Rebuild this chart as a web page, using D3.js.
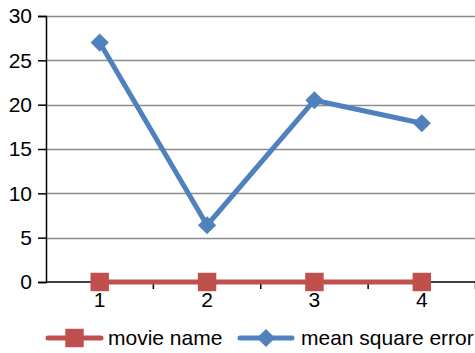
<!DOCTYPE html>
<html>
<head>
<meta charset="utf-8">
<script src="https://cdn.jsdelivr.net/npm/d3@7"></script>
<style>
  html, body { margin: 0; padding: 0; background: #fff; overflow: hidden; }
  svg { display: block; font-family: "Liberation Sans", Arial, Helvetica, sans-serif; }
</style>
</head>
<body>
<script>
const categories = ["1", "2", "3", "4"];
const movieName = [0, 0, 0, 0];
const meanSquareError = [27, 6.4, 20.5, 17.9];
const yTicks = [0, 5, 10, 15, 20, 25, 30];

(function () {
  const W = 475, H = 353;
  const FONT = 21;
  const svg = d3.select("body").append("svg").attr("width", W).attr("height", H);

  const plotLeft = 46, plotRight = 475.5, plotTop = 16, plotBottom = 282;

  const x = d3.scaleBand().domain(categories).range([plotLeft, plotRight]).padding(0);
  const y = d3.scaleLinear().domain([0, 30]).range([plotBottom, plotTop]);

  // horizontal gridlines
  svg.append("g").selectAll("line").data(yTicks.filter(d => d > 0)).join("line")
    .attr("x1", plotLeft).attr("x2", W)
    .attr("y1", d => Math.round(y(d)) + 0.5).attr("y2", d => Math.round(y(d)) + 0.5)
    .attr("stroke", "#8c8c8c").attr("stroke-width", 1.3);

  // y axis
  const yAxis = svg.append("g").attr("transform", `translate(${plotLeft},0)`)
    .call(d3.axisLeft(y).tickValues(yTicks).tickSize(8).tickPadding(6));
  yAxis.select(".domain").attr("stroke", "#000").attr("stroke-width", 1.5);
  yAxis.selectAll(".tick line").attr("stroke", "#000").attr("stroke-width", 1.5);
  yAxis.selectAll("text").attr("font-size", FONT).attr("fill", "#000")
    .attr("font-family", "Liberation Sans, Arial, sans-serif");

  // x axis: ticks sit between the category bands
  const xAxisG = svg.append("g").attr("transform", `translate(0,${plotBottom})`);
  xAxisG.append("line").attr("x1", plotLeft).attr("x2", W).attr("y1", 0).attr("y2", 0)
    .attr("stroke", "#000").attr("stroke-width", 1.5);
  const boundaries = categories.map(c => x(c)).concat([x(categories[categories.length - 1]) + x.bandwidth()]);
  xAxisG.selectAll("line.tk").data(boundaries.slice(1)).join("line").attr("class", "tk")
    .attr("x1", d => d).attr("x2", d => d).attr("y1", 0).attr("y2", 7)
    .attr("stroke", "#000").attr("stroke-width", 1.5);
  xAxisG.selectAll("text").data(categories).join("text")
    .attr("x", d => x(d) + x.bandwidth() / 2).attr("y", 25)
    .attr("text-anchor", "middle").attr("font-size", FONT).attr("fill", "#000")
    .text(d => d);

  const cx = (d, i) => x(categories[i]) + x.bandwidth() / 2;

  const seriesList = [
    { name: "movie name", values: movieName, color: "#C0504D", marker: "square" },
    { name: "mean square error", values: meanSquareError, color: "#4F81BD", marker: "diamond" }
  ];

  const markerPath = (type) => type === "square"
    ? d3.symbol(d3.symbolSquare, 340)()
    : d3.symbol(d3.symbolDiamond2, 210)();

  seriesList.forEach(s => {
    const line = d3.line().x((d, i) => cx(d, i)).y(d => y(d));
    svg.append("path").datum(s.values).attr("d", line)
      .attr("fill", "none").attr("stroke", s.color).attr("stroke-width", 5)
      .attr("stroke-linejoin", "round");
    svg.append("g").selectAll("path").data(s.values).join("path")
      .attr("d", markerPath(s.marker))
      .attr("transform", (d, i) => `translate(${cx(d, i)},${y(d)})`)
      .attr("fill", s.color);
  });

  // legend
  const legendY = 338;
  const legendItems = [
    { s: seriesList[0], x0: 48, x1: 101, tx: 108 },
    { s: seriesList[1], x0: 240, x1: 292, tx: 301 }
  ];
  legendItems.forEach(it => {
    const g = svg.append("g");
    g.append("line").attr("x1", it.x0).attr("x2", it.x1).attr("y1", legendY).attr("y2", legendY)
      .attr("stroke", it.s.color).attr("stroke-width", 5).attr("stroke-linecap", "round");
    g.append("path").attr("d", markerPath(it.s.marker))
      .attr("transform", `translate(${(it.x0 + it.x1) / 2},${legendY})`)
      .attr("fill", it.s.color);
    g.append("text").attr("x", it.tx).attr("y", legendY + 7)
      .attr("font-size", FONT).attr("fill", "#000").text(it.s.name);
  });
})();
</script>
</body>
</html>
